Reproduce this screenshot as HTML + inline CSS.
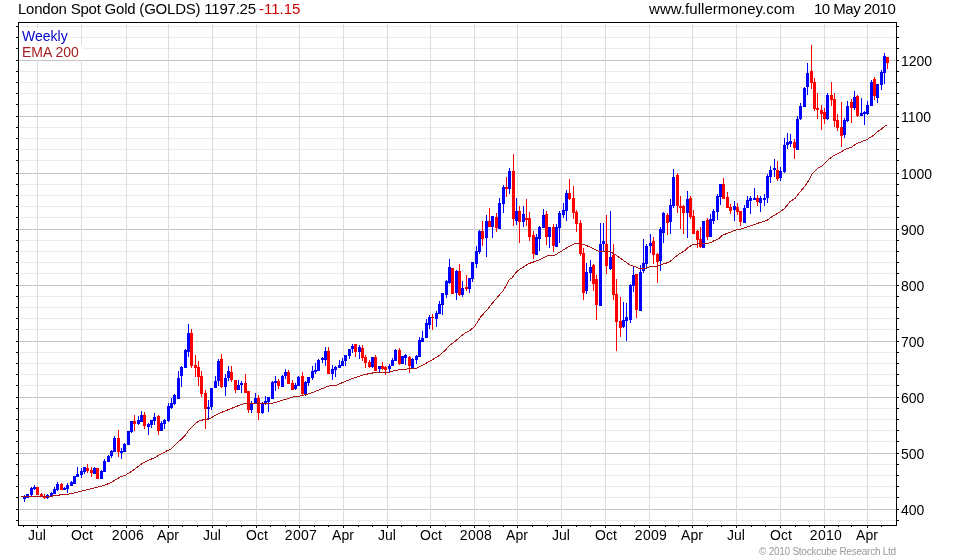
<!DOCTYPE html><html><head><meta charset="utf-8"><style>
html,body{margin:0;padding:0;background:#fff;}
body{width:980px;height:560px;position:relative;overflow:hidden;font-family:"Liberation Sans",sans-serif;}
svg{position:absolute;left:0;top:0;}
.t,.yl,.xl{will-change:transform;}
.t{position:absolute;font-size:14px;line-height:14px;white-space:nowrap;color:#000;}
.yl{position:absolute;font-size:14px;line-height:14px;white-space:nowrap;left:901px;}
.xl{position:absolute;font-size:14px;line-height:14px;white-space:nowrap;top:528px;width:60px;text-align:center;}
.h{font-size:15px;line-height:15px;top:0.6px;}
</style></head><body>
<svg width="980" height="560" viewBox="0 0 980 560" shape-rendering="crispEdges">
<rect x="20" y="26" width="875" height="1" fill="#ebebeb"/>
<rect x="20" y="37" width="875" height="1" fill="#ebebeb"/>
<rect x="20" y="48" width="875" height="1" fill="#ebebeb"/>
<rect x="20" y="71" width="875" height="1" fill="#ebebeb"/>
<rect x="20" y="82" width="875" height="1" fill="#ebebeb"/>
<rect x="20" y="93" width="875" height="1" fill="#ebebeb"/>
<rect x="20" y="104" width="875" height="1" fill="#ebebeb"/>
<rect x="20" y="127" width="875" height="1" fill="#ebebeb"/>
<rect x="20" y="138" width="875" height="1" fill="#ebebeb"/>
<rect x="20" y="149" width="875" height="1" fill="#ebebeb"/>
<rect x="20" y="160" width="875" height="1" fill="#ebebeb"/>
<rect x="20" y="184" width="875" height="1" fill="#ebebeb"/>
<rect x="20" y="195" width="875" height="1" fill="#ebebeb"/>
<rect x="20" y="206" width="875" height="1" fill="#ebebeb"/>
<rect x="20" y="217" width="875" height="1" fill="#ebebeb"/>
<rect x="20" y="240" width="875" height="1" fill="#ebebeb"/>
<rect x="20" y="251" width="875" height="1" fill="#ebebeb"/>
<rect x="20" y="262" width="875" height="1" fill="#ebebeb"/>
<rect x="20" y="273" width="875" height="1" fill="#ebebeb"/>
<rect x="20" y="296" width="875" height="1" fill="#ebebeb"/>
<rect x="20" y="307" width="875" height="1" fill="#ebebeb"/>
<rect x="20" y="318" width="875" height="1" fill="#ebebeb"/>
<rect x="20" y="329" width="875" height="1" fill="#ebebeb"/>
<rect x="20" y="352" width="875" height="1" fill="#ebebeb"/>
<rect x="20" y="363" width="875" height="1" fill="#ebebeb"/>
<rect x="20" y="374" width="875" height="1" fill="#ebebeb"/>
<rect x="20" y="385" width="875" height="1" fill="#ebebeb"/>
<rect x="20" y="408" width="875" height="1" fill="#ebebeb"/>
<rect x="20" y="419" width="875" height="1" fill="#ebebeb"/>
<rect x="20" y="430" width="875" height="1" fill="#ebebeb"/>
<rect x="20" y="441" width="875" height="1" fill="#ebebeb"/>
<rect x="20" y="464" width="875" height="1" fill="#ebebeb"/>
<rect x="20" y="475" width="875" height="1" fill="#ebebeb"/>
<rect x="20" y="486" width="875" height="1" fill="#ebebeb"/>
<rect x="20" y="497" width="875" height="1" fill="#ebebeb"/>
<rect x="20" y="520" width="875" height="1" fill="#ebebeb"/>
<rect x="19" y="60" width="877" height="1" fill="#c4c4c4"/>
<rect x="19" y="116" width="877" height="1" fill="#c4c4c4"/>
<rect x="19" y="173" width="877" height="1" fill="#c4c4c4"/>
<rect x="19" y="229" width="877" height="1" fill="#c4c4c4"/>
<rect x="19" y="285" width="877" height="1" fill="#c4c4c4"/>
<rect x="19" y="341" width="877" height="1" fill="#c4c4c4"/>
<rect x="19" y="397" width="877" height="1" fill="#c4c4c4"/>
<rect x="19" y="453" width="877" height="1" fill="#c4c4c4"/>
<rect x="19" y="509" width="877" height="1" fill="#c4c4c4"/>
<rect x="37" y="24" width="1" height="500" fill="#dcdcdc"/>
<rect x="81" y="24" width="1" height="500" fill="#dcdcdc"/>
<rect x="126" y="24" width="1" height="500" fill="#dcdcdc"/>
<rect x="168" y="24" width="1" height="500" fill="#dcdcdc"/>
<rect x="212" y="24" width="1" height="500" fill="#dcdcdc"/>
<rect x="256" y="24" width="1" height="500" fill="#dcdcdc"/>
<rect x="299" y="24" width="1" height="500" fill="#dcdcdc"/>
<rect x="343" y="24" width="1" height="500" fill="#dcdcdc"/>
<rect x="387" y="24" width="1" height="500" fill="#dcdcdc"/>
<rect x="430" y="24" width="1" height="500" fill="#dcdcdc"/>
<rect x="474" y="24" width="1" height="500" fill="#dcdcdc"/>
<rect x="517" y="24" width="1" height="500" fill="#dcdcdc"/>
<rect x="561" y="24" width="1" height="500" fill="#dcdcdc"/>
<rect x="605" y="24" width="1" height="500" fill="#dcdcdc"/>
<rect x="649" y="24" width="1" height="500" fill="#dcdcdc"/>
<rect x="692" y="24" width="1" height="500" fill="#dcdcdc"/>
<rect x="736" y="24" width="1" height="500" fill="#dcdcdc"/>
<rect x="780" y="24" width="1" height="500" fill="#dcdcdc"/>
<rect x="824" y="24" width="1" height="500" fill="#dcdcdc"/>
<rect x="867" y="24" width="1" height="500" fill="#dcdcdc"/>
<rect x="24" y="495" width="1" height="7" fill="#0000ff"/><rect x="23" y="497" width="3" height="2" fill="#0000ff"/>
<rect x="27" y="494" width="1" height="4" fill="#0000ff"/><rect x="26" y="494" width="3" height="4" fill="#0000ff"/>
<rect x="31" y="487" width="1" height="9" fill="#0000ff"/><rect x="30" y="488" width="3" height="7" fill="#0000ff"/>
<rect x="34" y="485" width="1" height="5" fill="#0000ff"/><rect x="33" y="487" width="3" height="2" fill="#0000ff"/>
<rect x="37" y="487" width="1" height="8" fill="#ff0000"/><rect x="36" y="487" width="3" height="8" fill="#ff0000"/>
<rect x="41" y="493" width="1" height="4" fill="#ff0000"/><rect x="40" y="494" width="3" height="2" fill="#ff0000"/>
<rect x="44" y="494" width="1" height="5" fill="#ff0000"/><rect x="43" y="496" width="3" height="2" fill="#ff0000"/>
<rect x="47" y="494" width="1" height="5" fill="#0000ff"/><rect x="46" y="495" width="3" height="3" fill="#0000ff"/>
<rect x="51" y="492" width="1" height="4" fill="#0000ff"/><rect x="50" y="493" width="3" height="3" fill="#0000ff"/>
<rect x="54" y="487" width="1" height="7" fill="#0000ff"/><rect x="53" y="489" width="3" height="5" fill="#0000ff"/>
<rect x="57" y="482" width="1" height="9" fill="#0000ff"/><rect x="56" y="484" width="3" height="6" fill="#0000ff"/>
<rect x="61" y="483" width="1" height="7" fill="#ff0000"/><rect x="60" y="484" width="3" height="6" fill="#ff0000"/>
<rect x="64" y="487" width="1" height="3" fill="#0000ff"/><rect x="63" y="488" width="3" height="2" fill="#0000ff"/>
<rect x="67" y="483" width="1" height="10" fill="#0000ff"/><rect x="66" y="485" width="3" height="4" fill="#0000ff"/>
<rect x="71" y="481" width="1" height="5" fill="#0000ff"/><rect x="70" y="482" width="3" height="4" fill="#0000ff"/>
<rect x="74" y="476" width="1" height="8" fill="#0000ff"/><rect x="73" y="476" width="3" height="8" fill="#0000ff"/>
<rect x="77" y="467" width="1" height="10" fill="#0000ff"/><rect x="76" y="474" width="3" height="3" fill="#0000ff"/>
<rect x="81" y="468" width="1" height="10" fill="#0000ff"/><rect x="80" y="471" width="3" height="4" fill="#0000ff"/>
<rect x="84" y="467" width="1" height="7" fill="#0000ff"/><rect x="83" y="467" width="3" height="5" fill="#0000ff"/>
<rect x="87" y="464" width="1" height="9" fill="#ff0000"/><rect x="86" y="468" width="3" height="3" fill="#ff0000"/>
<rect x="91" y="467" width="1" height="10" fill="#ff0000"/><rect x="90" y="470" width="3" height="3" fill="#ff0000"/>
<rect x="94" y="467" width="1" height="7" fill="#0000ff"/><rect x="93" y="468" width="3" height="6" fill="#0000ff"/>
<rect x="97" y="468" width="1" height="11" fill="#ff0000"/><rect x="96" y="468" width="3" height="11" fill="#ff0000"/>
<rect x="101" y="470" width="1" height="9" fill="#0000ff"/><rect x="100" y="471" width="3" height="8" fill="#0000ff"/>
<rect x="104" y="459" width="1" height="13" fill="#0000ff"/><rect x="103" y="461" width="3" height="11" fill="#0000ff"/>
<rect x="108" y="455" width="1" height="7" fill="#0000ff"/><rect x="107" y="456" width="3" height="6" fill="#0000ff"/>
<rect x="111" y="450" width="1" height="8" fill="#0000ff"/><rect x="110" y="451" width="3" height="5" fill="#0000ff"/>
<rect x="114" y="436" width="1" height="16" fill="#0000ff"/><rect x="113" y="438" width="3" height="14" fill="#0000ff"/>
<rect x="118" y="430" width="1" height="27" fill="#ff0000"/><rect x="117" y="438" width="3" height="14" fill="#ff0000"/>
<rect x="121" y="448" width="1" height="11" fill="#0000ff"/><rect x="120" y="451" width="3" height="2" fill="#0000ff"/>
<rect x="124" y="443" width="1" height="9" fill="#0000ff"/><rect x="123" y="444" width="3" height="8" fill="#0000ff"/>
<rect x="128" y="431" width="1" height="14" fill="#0000ff"/><rect x="127" y="431" width="3" height="14" fill="#0000ff"/>
<rect x="131" y="421" width="1" height="12" fill="#0000ff"/><rect x="130" y="421" width="3" height="11" fill="#0000ff"/>
<rect x="134" y="415" width="1" height="16" fill="#ff0000"/><rect x="133" y="421" width="3" height="3" fill="#ff0000"/>
<rect x="138" y="416" width="1" height="9" fill="#0000ff"/><rect x="137" y="420" width="3" height="4" fill="#0000ff"/>
<rect x="141" y="411" width="1" height="11" fill="#0000ff"/><rect x="140" y="415" width="3" height="7" fill="#0000ff"/>
<rect x="144" y="412" width="1" height="17" fill="#ff0000"/><rect x="143" y="415" width="3" height="11" fill="#ff0000"/>
<rect x="148" y="423" width="1" height="12" fill="#0000ff"/><rect x="147" y="424" width="3" height="3" fill="#0000ff"/>
<rect x="151" y="420" width="1" height="8" fill="#0000ff"/><rect x="150" y="420" width="3" height="5" fill="#0000ff"/>
<rect x="154" y="413" width="1" height="12" fill="#0000ff"/><rect x="153" y="417" width="3" height="4" fill="#0000ff"/>
<rect x="158" y="415" width="1" height="20" fill="#ff0000"/><rect x="157" y="416" width="3" height="15" fill="#ff0000"/>
<rect x="161" y="421" width="1" height="10" fill="#0000ff"/><rect x="160" y="423" width="3" height="8" fill="#0000ff"/>
<rect x="164" y="419" width="1" height="10" fill="#0000ff"/><rect x="163" y="420" width="3" height="4" fill="#0000ff"/>
<rect x="168" y="403" width="1" height="19" fill="#0000ff"/><rect x="167" y="406" width="3" height="15" fill="#0000ff"/>
<rect x="171" y="398" width="1" height="11" fill="#0000ff"/><rect x="170" y="403" width="3" height="5" fill="#0000ff"/>
<rect x="174" y="394" width="1" height="11" fill="#0000ff"/><rect x="173" y="395" width="3" height="9" fill="#0000ff"/>
<rect x="178" y="371" width="1" height="28" fill="#0000ff"/><rect x="177" y="378" width="3" height="21" fill="#0000ff"/>
<rect x="181" y="366" width="1" height="21" fill="#0000ff"/><rect x="180" y="367" width="3" height="9" fill="#0000ff"/>
<rect x="185" y="349" width="1" height="19" fill="#0000ff"/><rect x="184" y="350" width="3" height="18" fill="#0000ff"/>
<rect x="188" y="324" width="1" height="33" fill="#0000ff"/><rect x="187" y="333" width="3" height="19" fill="#0000ff"/>
<rect x="191" y="329" width="1" height="39" fill="#ff0000"/><rect x="190" y="333" width="3" height="33" fill="#ff0000"/>
<rect x="195" y="355" width="1" height="22" fill="#ff0000"/><rect x="194" y="365" width="3" height="3" fill="#ff0000"/>
<rect x="198" y="361" width="1" height="25" fill="#ff0000"/><rect x="197" y="367" width="3" height="10" fill="#ff0000"/>
<rect x="201" y="371" width="1" height="26" fill="#ff0000"/><rect x="200" y="376" width="3" height="18" fill="#ff0000"/>
<rect x="205" y="390" width="1" height="39" fill="#ff0000"/><rect x="204" y="393" width="3" height="16" fill="#ff0000"/>
<rect x="208" y="400" width="1" height="20" fill="#0000ff"/><rect x="207" y="407" width="3" height="2" fill="#0000ff"/>
<rect x="211" y="388" width="1" height="22" fill="#0000ff"/><rect x="210" y="388" width="3" height="19" fill="#0000ff"/>
<rect x="215" y="376" width="1" height="12" fill="#0000ff"/><rect x="214" y="381" width="3" height="7" fill="#0000ff"/>
<rect x="218" y="359" width="1" height="27" fill="#0000ff"/><rect x="217" y="361" width="3" height="20" fill="#0000ff"/>
<rect x="221" y="354" width="1" height="34" fill="#ff0000"/><rect x="220" y="359" width="3" height="28" fill="#ff0000"/>
<rect x="225" y="374" width="1" height="22" fill="#0000ff"/><rect x="224" y="378" width="3" height="9" fill="#0000ff"/>
<rect x="228" y="366" width="1" height="15" fill="#0000ff"/><rect x="227" y="371" width="3" height="7" fill="#0000ff"/>
<rect x="231" y="366" width="1" height="16" fill="#ff0000"/><rect x="230" y="372" width="3" height="8" fill="#ff0000"/>
<rect x="235" y="380" width="1" height="13" fill="#ff0000"/><rect x="234" y="380" width="3" height="10" fill="#ff0000"/>
<rect x="238" y="380" width="1" height="10" fill="#0000ff"/><rect x="237" y="385" width="3" height="5" fill="#0000ff"/>
<rect x="241" y="381" width="1" height="12" fill="#0000ff"/><rect x="240" y="383" width="3" height="2" fill="#0000ff"/>
<rect x="245" y="374" width="1" height="19" fill="#ff0000"/><rect x="244" y="383" width="3" height="10" fill="#ff0000"/>
<rect x="248" y="391" width="1" height="22" fill="#ff0000"/><rect x="247" y="391" width="3" height="19" fill="#ff0000"/>
<rect x="251" y="401" width="1" height="12" fill="#0000ff"/><rect x="250" y="404" width="3" height="6" fill="#0000ff"/>
<rect x="255" y="393" width="1" height="11" fill="#0000ff"/><rect x="254" y="398" width="3" height="6" fill="#0000ff"/>
<rect x="258" y="395" width="1" height="25" fill="#ff0000"/><rect x="257" y="398" width="3" height="15" fill="#ff0000"/>
<rect x="262" y="402" width="1" height="12" fill="#0000ff"/><rect x="261" y="403" width="3" height="10" fill="#0000ff"/>
<rect x="265" y="396" width="1" height="9" fill="#0000ff"/><rect x="264" y="401" width="3" height="3" fill="#0000ff"/>
<rect x="268" y="397" width="1" height="15" fill="#0000ff"/><rect x="267" y="397" width="3" height="5" fill="#0000ff"/>
<rect x="272" y="381" width="1" height="18" fill="#0000ff"/><rect x="271" y="382" width="3" height="17" fill="#0000ff"/>
<rect x="275" y="376" width="1" height="15" fill="#0000ff"/><rect x="274" y="381" width="3" height="2" fill="#0000ff"/>
<rect x="278" y="379" width="1" height="10" fill="#ff0000"/><rect x="277" y="381" width="3" height="5" fill="#ff0000"/>
<rect x="282" y="375" width="1" height="12" fill="#0000ff"/><rect x="281" y="376" width="3" height="11" fill="#0000ff"/>
<rect x="285" y="369" width="1" height="10" fill="#0000ff"/><rect x="284" y="372" width="3" height="4" fill="#0000ff"/>
<rect x="288" y="370" width="1" height="14" fill="#ff0000"/><rect x="287" y="372" width="3" height="12" fill="#ff0000"/>
<rect x="292" y="380" width="1" height="10" fill="#ff0000"/><rect x="291" y="383" width="3" height="7" fill="#ff0000"/>
<rect x="295" y="383" width="1" height="7" fill="#0000ff"/><rect x="294" y="385" width="3" height="4" fill="#0000ff"/>
<rect x="298" y="376" width="1" height="10" fill="#0000ff"/><rect x="297" y="377" width="3" height="9" fill="#0000ff"/>
<rect x="302" y="372" width="1" height="23" fill="#ff0000"/><rect x="301" y="376" width="3" height="18" fill="#ff0000"/>
<rect x="305" y="381" width="1" height="15" fill="#0000ff"/><rect x="304" y="382" width="3" height="12" fill="#0000ff"/>
<rect x="308" y="377" width="1" height="9" fill="#0000ff"/><rect x="307" y="377" width="3" height="6" fill="#0000ff"/>
<rect x="312" y="366" width="1" height="14" fill="#0000ff"/><rect x="311" y="371" width="3" height="7" fill="#0000ff"/>
<rect x="315" y="363" width="1" height="11" fill="#0000ff"/><rect x="314" y="370" width="3" height="2" fill="#0000ff"/>
<rect x="318" y="359" width="1" height="12" fill="#0000ff"/><rect x="317" y="360" width="3" height="11" fill="#0000ff"/>
<rect x="322" y="357" width="1" height="6" fill="#0000ff"/><rect x="321" y="358" width="3" height="2" fill="#0000ff"/>
<rect x="325" y="347" width="1" height="19" fill="#0000ff"/><rect x="324" y="351" width="3" height="9" fill="#0000ff"/>
<rect x="328" y="347" width="1" height="27" fill="#ff0000"/><rect x="327" y="351" width="3" height="23" fill="#ff0000"/>
<rect x="332" y="365" width="1" height="15" fill="#0000ff"/><rect x="331" y="369" width="3" height="5" fill="#0000ff"/>
<rect x="335" y="366" width="1" height="11" fill="#0000ff"/><rect x="334" y="367" width="3" height="3" fill="#0000ff"/>
<rect x="339" y="360" width="1" height="8" fill="#0000ff"/><rect x="338" y="365" width="3" height="3" fill="#0000ff"/>
<rect x="342" y="358" width="1" height="8" fill="#0000ff"/><rect x="341" y="361" width="3" height="5" fill="#0000ff"/>
<rect x="345" y="355" width="1" height="11" fill="#0000ff"/><rect x="344" y="355" width="3" height="6" fill="#0000ff"/>
<rect x="349" y="349" width="1" height="10" fill="#0000ff"/><rect x="348" y="349" width="3" height="7" fill="#0000ff"/>
<rect x="352" y="344" width="1" height="9" fill="#0000ff"/><rect x="351" y="346" width="3" height="3" fill="#0000ff"/>
<rect x="355" y="344" width="1" height="13" fill="#ff0000"/><rect x="354" y="344" width="3" height="8" fill="#ff0000"/>
<rect x="359" y="345" width="1" height="14" fill="#0000ff"/><rect x="358" y="347" width="3" height="5" fill="#0000ff"/>
<rect x="362" y="345" width="1" height="16" fill="#ff0000"/><rect x="361" y="348" width="3" height="10" fill="#ff0000"/>
<rect x="365" y="355" width="1" height="13" fill="#ff0000"/><rect x="364" y="357" width="3" height="6" fill="#ff0000"/>
<rect x="369" y="360" width="1" height="8" fill="#ff0000"/><rect x="368" y="362" width="3" height="5" fill="#ff0000"/>
<rect x="372" y="357" width="1" height="11" fill="#0000ff"/><rect x="371" y="357" width="3" height="10" fill="#0000ff"/>
<rect x="375" y="355" width="1" height="16" fill="#ff0000"/><rect x="374" y="357" width="3" height="14" fill="#ff0000"/>
<rect x="379" y="366" width="1" height="6" fill="#0000ff"/><rect x="378" y="366" width="3" height="3" fill="#0000ff"/>
<rect x="382" y="362" width="1" height="8" fill="#ff0000"/><rect x="381" y="366" width="3" height="3" fill="#ff0000"/>
<rect x="385" y="366" width="1" height="9" fill="#ff0000"/><rect x="384" y="367" width="3" height="3" fill="#ff0000"/>
<rect x="389" y="364" width="1" height="8" fill="#0000ff"/><rect x="388" y="366" width="3" height="3" fill="#0000ff"/>
<rect x="392" y="358" width="1" height="8" fill="#0000ff"/><rect x="391" y="360" width="3" height="6" fill="#0000ff"/>
<rect x="395" y="349" width="1" height="12" fill="#0000ff"/><rect x="394" y="350" width="3" height="11" fill="#0000ff"/>
<rect x="399" y="348" width="1" height="17" fill="#ff0000"/><rect x="398" y="350" width="3" height="14" fill="#ff0000"/>
<rect x="402" y="356" width="1" height="8" fill="#0000ff"/><rect x="401" y="356" width="3" height="8" fill="#0000ff"/>
<rect x="405" y="354" width="1" height="11" fill="#0000ff"/><rect x="404" y="355" width="3" height="3" fill="#0000ff"/>
<rect x="409" y="356" width="1" height="17" fill="#ff0000"/><rect x="408" y="357" width="3" height="9" fill="#ff0000"/>
<rect x="412" y="358" width="1" height="10" fill="#0000ff"/><rect x="411" y="359" width="3" height="9" fill="#0000ff"/>
<rect x="416" y="355" width="1" height="9" fill="#0000ff"/><rect x="415" y="356" width="3" height="4" fill="#0000ff"/>
<rect x="419" y="337" width="1" height="20" fill="#0000ff"/><rect x="418" y="340" width="3" height="17" fill="#0000ff"/>
<rect x="422" y="331" width="1" height="11" fill="#0000ff"/><rect x="421" y="338" width="3" height="4" fill="#0000ff"/>
<rect x="426" y="319" width="1" height="19" fill="#0000ff"/><rect x="425" y="323" width="3" height="15" fill="#0000ff"/>
<rect x="429" y="315" width="1" height="14" fill="#0000ff"/><rect x="428" y="317" width="3" height="8" fill="#0000ff"/>
<rect x="432" y="314" width="1" height="16" fill="#ff0000"/><rect x="431" y="317" width="3" height="1" fill="#ff0000"/>
<rect x="436" y="311" width="1" height="16" fill="#0000ff"/><rect x="435" y="313" width="3" height="6" fill="#0000ff"/>
<rect x="439" y="301" width="1" height="13" fill="#0000ff"/><rect x="438" y="304" width="3" height="10" fill="#0000ff"/>
<rect x="442" y="293" width="1" height="22" fill="#0000ff"/><rect x="441" y="293" width="3" height="12" fill="#0000ff"/>
<rect x="446" y="280" width="1" height="18" fill="#0000ff"/><rect x="445" y="281" width="3" height="14" fill="#0000ff"/>
<rect x="449" y="259" width="1" height="25" fill="#0000ff"/><rect x="448" y="267" width="3" height="16" fill="#0000ff"/>
<rect x="452" y="268" width="1" height="26" fill="#ff0000"/><rect x="451" y="268" width="3" height="26" fill="#ff0000"/>
<rect x="456" y="270" width="1" height="30" fill="#0000ff"/><rect x="455" y="271" width="3" height="22" fill="#0000ff"/>
<rect x="459" y="264" width="1" height="32" fill="#ff0000"/><rect x="458" y="271" width="3" height="24" fill="#ff0000"/>
<rect x="462" y="281" width="1" height="16" fill="#0000ff"/><rect x="461" y="288" width="3" height="7" fill="#0000ff"/>
<rect x="466" y="275" width="1" height="16" fill="#ff0000"/><rect x="465" y="287" width="3" height="2" fill="#ff0000"/>
<rect x="469" y="278" width="1" height="15" fill="#0000ff"/><rect x="468" y="278" width="3" height="11" fill="#0000ff"/>
<rect x="472" y="262" width="1" height="20" fill="#0000ff"/><rect x="471" y="262" width="3" height="17" fill="#0000ff"/>
<rect x="476" y="246" width="1" height="22" fill="#0000ff"/><rect x="475" y="251" width="3" height="13" fill="#0000ff"/>
<rect x="479" y="230" width="1" height="24" fill="#0000ff"/><rect x="478" y="231" width="3" height="21" fill="#0000ff"/>
<rect x="482" y="221" width="1" height="25" fill="#ff0000"/><rect x="481" y="231" width="3" height="8" fill="#ff0000"/>
<rect x="486" y="215" width="1" height="42" fill="#0000ff"/><rect x="485" y="221" width="3" height="17" fill="#0000ff"/>
<rect x="489" y="208" width="1" height="19" fill="#ff0000"/><rect x="488" y="221" width="3" height="6" fill="#ff0000"/>
<rect x="492" y="216" width="1" height="22" fill="#0000ff"/><rect x="491" y="216" width="3" height="11" fill="#0000ff"/>
<rect x="496" y="213" width="1" height="19" fill="#ff0000"/><rect x="495" y="217" width="3" height="11" fill="#ff0000"/>
<rect x="499" y="198" width="1" height="31" fill="#0000ff"/><rect x="498" y="203" width="3" height="26" fill="#0000ff"/>
<rect x="503" y="185" width="1" height="28" fill="#0000ff"/><rect x="502" y="187" width="3" height="17" fill="#0000ff"/>
<rect x="506" y="177" width="1" height="20" fill="#ff0000"/><rect x="505" y="187" width="3" height="2" fill="#ff0000"/>
<rect x="509" y="168" width="1" height="26" fill="#0000ff"/><rect x="508" y="171" width="3" height="18" fill="#0000ff"/>
<rect x="513" y="154" width="1" height="72" fill="#ff0000"/><rect x="512" y="171" width="3" height="48" fill="#ff0000"/>
<rect x="516" y="198" width="1" height="27" fill="#0000ff"/><rect x="515" y="211" width="3" height="10" fill="#0000ff"/>
<rect x="519" y="206" width="1" height="37" fill="#ff0000"/><rect x="518" y="211" width="3" height="11" fill="#ff0000"/>
<rect x="523" y="206" width="1" height="21" fill="#0000ff"/><rect x="522" y="214" width="3" height="8" fill="#0000ff"/>
<rect x="526" y="199" width="1" height="27" fill="#ff0000"/><rect x="525" y="218" width="3" height="2" fill="#ff0000"/>
<rect x="529" y="212" width="1" height="29" fill="#ff0000"/><rect x="528" y="218" width="3" height="19" fill="#ff0000"/>
<rect x="533" y="231" width="1" height="28" fill="#ff0000"/><rect x="532" y="235" width="3" height="19" fill="#ff0000"/>
<rect x="536" y="234" width="1" height="21" fill="#0000ff"/><rect x="535" y="237" width="3" height="18" fill="#0000ff"/>
<rect x="539" y="226" width="1" height="25" fill="#0000ff"/><rect x="538" y="227" width="3" height="12" fill="#0000ff"/>
<rect x="543" y="209" width="1" height="19" fill="#0000ff"/><rect x="542" y="215" width="3" height="13" fill="#0000ff"/>
<rect x="546" y="211" width="1" height="34" fill="#ff0000"/><rect x="545" y="214" width="3" height="23" fill="#ff0000"/>
<rect x="549" y="227" width="1" height="21" fill="#0000ff"/><rect x="548" y="227" width="3" height="10" fill="#0000ff"/>
<rect x="553" y="224" width="1" height="28" fill="#ff0000"/><rect x="552" y="227" width="3" height="19" fill="#ff0000"/>
<rect x="556" y="224" width="1" height="23" fill="#0000ff"/><rect x="555" y="227" width="3" height="20" fill="#0000ff"/>
<rect x="559" y="211" width="1" height="32" fill="#0000ff"/><rect x="558" y="213" width="3" height="15" fill="#0000ff"/>
<rect x="563" y="203" width="1" height="15" fill="#0000ff"/><rect x="562" y="210" width="3" height="5" fill="#0000ff"/>
<rect x="566" y="190" width="1" height="31" fill="#0000ff"/><rect x="565" y="193" width="3" height="18" fill="#0000ff"/>
<rect x="569" y="179" width="1" height="21" fill="#ff0000"/><rect x="568" y="193" width="3" height="6" fill="#ff0000"/>
<rect x="573" y="186" width="1" height="33" fill="#ff0000"/><rect x="572" y="198" width="3" height="15" fill="#ff0000"/>
<rect x="576" y="210" width="1" height="22" fill="#ff0000"/><rect x="575" y="212" width="3" height="12" fill="#ff0000"/>
<rect x="580" y="220" width="1" height="36" fill="#ff0000"/><rect x="579" y="223" width="3" height="31" fill="#ff0000"/>
<rect x="583" y="248" width="1" height="52" fill="#ff0000"/><rect x="582" y="253" width="3" height="40" fill="#ff0000"/>
<rect x="586" y="263" width="1" height="31" fill="#0000ff"/><rect x="585" y="272" width="3" height="19" fill="#0000ff"/>
<rect x="590" y="260" width="1" height="21" fill="#0000ff"/><rect x="589" y="267" width="3" height="6" fill="#0000ff"/>
<rect x="593" y="264" width="1" height="27" fill="#ff0000"/><rect x="592" y="265" width="3" height="19" fill="#ff0000"/>
<rect x="596" y="275" width="1" height="45" fill="#ff0000"/><rect x="595" y="279" width="3" height="26" fill="#ff0000"/>
<rect x="600" y="223" width="1" height="83" fill="#0000ff"/><rect x="599" y="244" width="3" height="62" fill="#0000ff"/>
<rect x="603" y="223" width="1" height="28" fill="#0000ff"/><rect x="602" y="241" width="3" height="3" fill="#0000ff"/>
<rect x="606" y="215" width="1" height="59" fill="#ff0000"/><rect x="605" y="244" width="3" height="22" fill="#ff0000"/>
<rect x="610" y="211" width="1" height="59" fill="#0000ff"/><rect x="609" y="257" width="3" height="12" fill="#0000ff"/>
<rect x="613" y="244" width="1" height="56" fill="#ff0000"/><rect x="612" y="255" width="3" height="40" fill="#ff0000"/>
<rect x="616" y="279" width="1" height="72" fill="#ff0000"/><rect x="615" y="294" width="3" height="28" fill="#ff0000"/>
<rect x="620" y="297" width="1" height="40" fill="#ff0000"/><rect x="619" y="321" width="3" height="7" fill="#ff0000"/>
<rect x="623" y="302" width="1" height="26" fill="#0000ff"/><rect x="622" y="320" width="3" height="7" fill="#0000ff"/>
<rect x="626" y="303" width="1" height="38" fill="#0000ff"/><rect x="625" y="317" width="3" height="4" fill="#0000ff"/>
<rect x="630" y="284" width="1" height="39" fill="#0000ff"/><rect x="629" y="285" width="3" height="35" fill="#0000ff"/>
<rect x="633" y="267" width="1" height="25" fill="#0000ff"/><rect x="632" y="275" width="3" height="11" fill="#0000ff"/>
<rect x="636" y="274" width="1" height="44" fill="#ff0000"/><rect x="635" y="274" width="3" height="36" fill="#ff0000"/>
<rect x="640" y="265" width="1" height="46" fill="#0000ff"/><rect x="639" y="272" width="3" height="39" fill="#0000ff"/>
<rect x="643" y="239" width="1" height="34" fill="#0000ff"/><rect x="642" y="263" width="3" height="8" fill="#0000ff"/>
<rect x="646" y="244" width="1" height="25" fill="#0000ff"/><rect x="645" y="246" width="3" height="18" fill="#0000ff"/>
<rect x="650" y="234" width="1" height="19" fill="#0000ff"/><rect x="649" y="243" width="3" height="3" fill="#0000ff"/>
<rect x="653" y="237" width="1" height="27" fill="#ff0000"/><rect x="652" y="241" width="3" height="14" fill="#ff0000"/>
<rect x="657" y="253" width="1" height="30" fill="#ff0000"/><rect x="656" y="254" width="3" height="8" fill="#ff0000"/>
<rect x="660" y="227" width="1" height="44" fill="#0000ff"/><rect x="659" y="229" width="3" height="32" fill="#0000ff"/>
<rect x="663" y="212" width="1" height="31" fill="#0000ff"/><rect x="662" y="213" width="3" height="20" fill="#0000ff"/>
<rect x="667" y="213" width="1" height="22" fill="#ff0000"/><rect x="666" y="215" width="3" height="8" fill="#ff0000"/>
<rect x="670" y="199" width="1" height="35" fill="#0000ff"/><rect x="669" y="205" width="3" height="17" fill="#0000ff"/>
<rect x="673" y="169" width="1" height="39" fill="#0000ff"/><rect x="672" y="177" width="3" height="29" fill="#0000ff"/>
<rect x="677" y="173" width="1" height="40" fill="#ff0000"/><rect x="676" y="175" width="3" height="31" fill="#ff0000"/>
<rect x="680" y="196" width="1" height="33" fill="#ff0000"/><rect x="679" y="206" width="3" height="2" fill="#ff0000"/>
<rect x="683" y="205" width="1" height="29" fill="#ff0000"/><rect x="682" y="206" width="3" height="7" fill="#ff0000"/>
<rect x="687" y="191" width="1" height="47" fill="#0000ff"/><rect x="686" y="199" width="3" height="14" fill="#0000ff"/>
<rect x="690" y="196" width="1" height="23" fill="#ff0000"/><rect x="689" y="198" width="3" height="19" fill="#ff0000"/>
<rect x="693" y="210" width="1" height="24" fill="#ff0000"/><rect x="692" y="216" width="3" height="18" fill="#ff0000"/>
<rect x="697" y="230" width="1" height="18" fill="#ff0000"/><rect x="696" y="231" width="3" height="9" fill="#ff0000"/>
<rect x="700" y="227" width="1" height="21" fill="#ff0000"/><rect x="699" y="239" width="3" height="8" fill="#ff0000"/>
<rect x="703" y="221" width="1" height="27" fill="#0000ff"/><rect x="702" y="221" width="3" height="27" fill="#0000ff"/>
<rect x="707" y="218" width="1" height="22" fill="#ff0000"/><rect x="706" y="220" width="3" height="17" fill="#ff0000"/>
<rect x="710" y="214" width="1" height="23" fill="#0000ff"/><rect x="709" y="219" width="3" height="18" fill="#0000ff"/>
<rect x="713" y="209" width="1" height="15" fill="#0000ff"/><rect x="712" y="211" width="3" height="10" fill="#0000ff"/>
<rect x="717" y="194" width="1" height="26" fill="#0000ff"/><rect x="716" y="196" width="3" height="16" fill="#0000ff"/>
<rect x="720" y="184" width="1" height="21" fill="#0000ff"/><rect x="719" y="184" width="3" height="13" fill="#0000ff"/>
<rect x="723" y="178" width="1" height="21" fill="#ff0000"/><rect x="722" y="184" width="3" height="15" fill="#ff0000"/>
<rect x="727" y="192" width="1" height="16" fill="#ff0000"/><rect x="726" y="197" width="3" height="11" fill="#ff0000"/>
<rect x="730" y="204" width="1" height="10" fill="#ff0000"/><rect x="729" y="207" width="3" height="4" fill="#ff0000"/>
<rect x="734" y="201" width="1" height="20" fill="#0000ff"/><rect x="733" y="206" width="3" height="4" fill="#0000ff"/>
<rect x="737" y="203" width="1" height="12" fill="#ff0000"/><rect x="736" y="207" width="3" height="5" fill="#ff0000"/>
<rect x="740" y="211" width="1" height="15" fill="#ff0000"/><rect x="739" y="211" width="3" height="11" fill="#ff0000"/>
<rect x="744" y="205" width="1" height="18" fill="#0000ff"/><rect x="743" y="208" width="3" height="15" fill="#0000ff"/>
<rect x="747" y="196" width="1" height="12" fill="#0000ff"/><rect x="746" y="200" width="3" height="8" fill="#0000ff"/>
<rect x="750" y="196" width="1" height="18" fill="#0000ff"/><rect x="749" y="198" width="3" height="3" fill="#0000ff"/>
<rect x="754" y="188" width="1" height="12" fill="#0000ff"/><rect x="753" y="198" width="3" height="2" fill="#0000ff"/>
<rect x="757" y="195" width="1" height="11" fill="#ff0000"/><rect x="756" y="198" width="3" height="4" fill="#ff0000"/>
<rect x="760" y="196" width="1" height="16" fill="#0000ff"/><rect x="759" y="198" width="3" height="5" fill="#0000ff"/>
<rect x="764" y="194" width="1" height="12" fill="#0000ff"/><rect x="763" y="198" width="3" height="2" fill="#0000ff"/>
<rect x="767" y="174" width="1" height="29" fill="#0000ff"/><rect x="766" y="176" width="3" height="22" fill="#0000ff"/>
<rect x="770" y="166" width="1" height="17" fill="#0000ff"/><rect x="769" y="170" width="3" height="7" fill="#0000ff"/>
<rect x="774" y="159" width="1" height="18" fill="#0000ff"/><rect x="773" y="168" width="3" height="2" fill="#0000ff"/>
<rect x="777" y="161" width="1" height="20" fill="#ff0000"/><rect x="776" y="170" width="3" height="9" fill="#ff0000"/>
<rect x="780" y="167" width="1" height="14" fill="#0000ff"/><rect x="779" y="171" width="3" height="7" fill="#0000ff"/>
<rect x="784" y="138" width="1" height="35" fill="#0000ff"/><rect x="783" y="145" width="3" height="27" fill="#0000ff"/>
<rect x="787" y="133" width="1" height="16" fill="#0000ff"/><rect x="786" y="142" width="3" height="3" fill="#0000ff"/>
<rect x="790" y="134" width="1" height="13" fill="#0000ff"/><rect x="789" y="141" width="3" height="3" fill="#0000ff"/>
<rect x="794" y="139" width="1" height="20" fill="#ff0000"/><rect x="793" y="142" width="3" height="6" fill="#ff0000"/>
<rect x="797" y="116" width="1" height="34" fill="#0000ff"/><rect x="796" y="119" width="3" height="31" fill="#0000ff"/>
<rect x="800" y="103" width="1" height="17" fill="#0000ff"/><rect x="799" y="106" width="3" height="13" fill="#0000ff"/>
<rect x="804" y="87" width="1" height="20" fill="#0000ff"/><rect x="803" y="88" width="3" height="19" fill="#0000ff"/>
<rect x="807" y="63" width="1" height="32" fill="#0000ff"/><rect x="806" y="73" width="3" height="14" fill="#0000ff"/>
<rect x="811" y="45" width="1" height="44" fill="#ff0000"/><rect x="810" y="71" width="3" height="12" fill="#ff0000"/>
<rect x="814" y="78" width="1" height="33" fill="#ff0000"/><rect x="813" y="82" width="3" height="27" fill="#ff0000"/>
<rect x="817" y="93" width="1" height="26" fill="#ff0000"/><rect x="816" y="108" width="3" height="2" fill="#ff0000"/>
<rect x="821" y="105" width="1" height="25" fill="#ff0000"/><rect x="820" y="110" width="3" height="4" fill="#ff0000"/>
<rect x="824" y="108" width="1" height="16" fill="#ff0000"/><rect x="823" y="112" width="3" height="7" fill="#ff0000"/>
<rect x="827" y="93" width="1" height="27" fill="#0000ff"/><rect x="826" y="95" width="3" height="24" fill="#0000ff"/>
<rect x="831" y="82" width="1" height="24" fill="#ff0000"/><rect x="830" y="95" width="3" height="5" fill="#ff0000"/>
<rect x="834" y="93" width="1" height="34" fill="#ff0000"/><rect x="833" y="99" width="3" height="22" fill="#ff0000"/>
<rect x="837" y="114" width="1" height="17" fill="#ff0000"/><rect x="836" y="120" width="3" height="8" fill="#ff0000"/>
<rect x="841" y="102" width="1" height="45" fill="#ff0000"/><rect x="840" y="127" width="3" height="9" fill="#ff0000"/>
<rect x="844" y="118" width="1" height="20" fill="#0000ff"/><rect x="843" y="120" width="3" height="15" fill="#0000ff"/>
<rect x="847" y="101" width="1" height="21" fill="#0000ff"/><rect x="846" y="106" width="3" height="15" fill="#0000ff"/>
<rect x="851" y="99" width="1" height="24" fill="#ff0000"/><rect x="850" y="102" width="3" height="6" fill="#ff0000"/>
<rect x="854" y="91" width="1" height="19" fill="#0000ff"/><rect x="853" y="97" width="3" height="11" fill="#0000ff"/>
<rect x="857" y="95" width="1" height="22" fill="#ff0000"/><rect x="856" y="96" width="3" height="20" fill="#ff0000"/>
<rect x="861" y="98" width="1" height="18" fill="#0000ff"/><rect x="860" y="113" width="3" height="3" fill="#0000ff"/>
<rect x="864" y="111" width="1" height="14" fill="#0000ff"/><rect x="863" y="112" width="3" height="2" fill="#0000ff"/>
<rect x="867" y="101" width="1" height="14" fill="#0000ff"/><rect x="866" y="105" width="3" height="9" fill="#0000ff"/>
<rect x="871" y="80" width="1" height="26" fill="#0000ff"/><rect x="870" y="82" width="3" height="24" fill="#0000ff"/>
<rect x="874" y="77" width="1" height="23" fill="#ff0000"/><rect x="873" y="79" width="3" height="17" fill="#ff0000"/>
<rect x="877" y="84" width="1" height="19" fill="#0000ff"/><rect x="876" y="84" width="3" height="14" fill="#0000ff"/>
<rect x="881" y="70" width="1" height="20" fill="#0000ff"/><rect x="880" y="72" width="3" height="13" fill="#0000ff"/>
<rect x="884" y="53" width="1" height="31" fill="#0000ff"/><rect x="883" y="56" width="3" height="17" fill="#0000ff"/>
<rect x="887" y="57" width="1" height="12" fill="#ff0000"/><rect x="886" y="57" width="3" height="6" fill="#ff0000"/>
<polyline points="21.0,496.5 52.0,496.5 53.0,495.5 59.0,495.5 60.0,494.5 67.0,494.5 76.0,492.5 82.0,491.0 88.0,489.5 94.0,488.0 100.0,486.5 104.0,485.5 110.0,483.0 116.0,479.5 120.0,477.0 125.0,475.5 130.0,472.25 135.0,469.0 140.0,465.0 145.0,462.0 150.0,459.6 154.3,457.9 158.6,455.3 162.9,453.1 167.1,450.6 170.6,449.3 175.7,444.1 180.0,440.3 184.3,436.4 186.9,433.0 187.7,431.3 192.9,426.1 198.0,421.4 200.0,420.5 205.0,419.5 210.0,418.5 215.0,415.5 220.0,413.0 225.0,411.0 230.0,409.0 235.0,407.0 240.0,405.0 245.0,403.5 255.0,403.3 265.0,403.5 270.0,403.7 275.0,402.5 280.0,401.0 285.0,399.5 290.0,398.0 295.0,396.5 299.0,396.0 300.0,396.0 310.0,393.5 320.0,389.5 330.0,385.5 337.0,385.0 345.0,381.5 355.0,377.5 365.0,374.5 375.0,372.5 385.0,372.0 390.0,372.0 395.0,370.5 398.0,370.0 405.0,369.5 410.0,368.5 417.0,368.0 423.0,365.0 430.0,361.0 438.0,356.5 445.0,350.5 450.0,345.0 455.0,341.5 460.0,337.0 465.0,333.0 470.0,330.5 475.0,326.0 480.0,317.8 487.5,309.4 490.7,305.2 497.1,297.6 503.6,290.1 506.8,284.3 508.9,280.0 512.1,277.8 516.4,271.9 520.7,268.7 525.0,266.0 529.3,263.4 535.0,261.5 540.0,259.75 545.0,257.0 548.0,255.5 555.0,255.0 560.0,252.0 565.0,249.0 570.0,246.0 575.0,243.5 580.0,243.5 585.0,245.0 590.0,247.0 595.0,249.5 600.0,252.0 605.0,251.5 610.0,251.5 615.0,254.5 620.0,258.0 625.0,261.5 630.0,265.0 635.0,266.5 640.0,269.0 645.0,268.5 650.0,266.7 655.0,266.5 658.0,266.0 660.0,265.0 665.0,263.5 668.0,262.5 672.0,260.0 675.0,257.0 678.0,255.0 680.0,253.5 685.0,250.5 688.0,247.5 693.0,244.5 701.0,243.4 708.0,243.4 711.0,242.5 714.0,240.7 718.0,239.3 722.0,235.7 724.0,234.4 727.0,233.6 730.0,232.3 736.0,230.0 740.0,229.5 750.0,226.0 760.0,222.5 767.0,220.5 773.0,216.0 780.0,212.0 785.0,208.0 790.0,201.5 795.0,198.5 800.0,192.0 805.0,186.0 809.0,180.0 812.0,174.0 818.0,168.0 822.0,166.0 828.0,160.0 834.0,155.5 840.0,152.5 846.0,149.0 852.0,147.0 856.0,144.0 858.0,143.0 862.0,141.5 866.0,140.0 871.0,137.0 874.0,135.0 876.0,133.0 879.0,130.5 881.0,129.5 884.0,126.75 886.5,125.25" fill="none" stroke="#a81414" stroke-width="1" shape-rendering="crispEdges"/>
<rect x="18" y="22" width="879" height="1" fill="#000"/>
<rect x="18" y="525" width="879" height="1" fill="#000"/>
<rect x="18" y="22" width="1" height="504" fill="#000"/>
<rect x="896" y="22" width="1" height="504" fill="#000"/>
<rect x="16" y="26" width="2" height="1" fill="#000"/>
<rect x="897" y="26" width="2" height="1" fill="#000"/>
<rect x="16" y="37" width="2" height="1" fill="#000"/>
<rect x="897" y="37" width="2" height="1" fill="#000"/>
<rect x="16" y="48" width="2" height="1" fill="#000"/>
<rect x="897" y="48" width="2" height="1" fill="#000"/>
<rect x="16" y="60" width="2" height="1" fill="#000"/>
<rect x="897" y="60" width="2" height="1" fill="#000"/>
<rect x="16" y="71" width="2" height="1" fill="#000"/>
<rect x="897" y="71" width="2" height="1" fill="#000"/>
<rect x="16" y="82" width="2" height="1" fill="#000"/>
<rect x="897" y="82" width="2" height="1" fill="#000"/>
<rect x="16" y="93" width="2" height="1" fill="#000"/>
<rect x="897" y="93" width="2" height="1" fill="#000"/>
<rect x="16" y="104" width="2" height="1" fill="#000"/>
<rect x="897" y="104" width="2" height="1" fill="#000"/>
<rect x="16" y="116" width="2" height="1" fill="#000"/>
<rect x="897" y="116" width="2" height="1" fill="#000"/>
<rect x="16" y="127" width="2" height="1" fill="#000"/>
<rect x="897" y="127" width="2" height="1" fill="#000"/>
<rect x="16" y="138" width="2" height="1" fill="#000"/>
<rect x="897" y="138" width="2" height="1" fill="#000"/>
<rect x="16" y="149" width="2" height="1" fill="#000"/>
<rect x="897" y="149" width="2" height="1" fill="#000"/>
<rect x="16" y="160" width="2" height="1" fill="#000"/>
<rect x="897" y="160" width="2" height="1" fill="#000"/>
<rect x="16" y="173" width="2" height="1" fill="#000"/>
<rect x="897" y="173" width="2" height="1" fill="#000"/>
<rect x="16" y="184" width="2" height="1" fill="#000"/>
<rect x="897" y="184" width="2" height="1" fill="#000"/>
<rect x="16" y="195" width="2" height="1" fill="#000"/>
<rect x="897" y="195" width="2" height="1" fill="#000"/>
<rect x="16" y="206" width="2" height="1" fill="#000"/>
<rect x="897" y="206" width="2" height="1" fill="#000"/>
<rect x="16" y="217" width="2" height="1" fill="#000"/>
<rect x="897" y="217" width="2" height="1" fill="#000"/>
<rect x="16" y="229" width="2" height="1" fill="#000"/>
<rect x="897" y="229" width="2" height="1" fill="#000"/>
<rect x="16" y="240" width="2" height="1" fill="#000"/>
<rect x="897" y="240" width="2" height="1" fill="#000"/>
<rect x="16" y="251" width="2" height="1" fill="#000"/>
<rect x="897" y="251" width="2" height="1" fill="#000"/>
<rect x="16" y="262" width="2" height="1" fill="#000"/>
<rect x="897" y="262" width="2" height="1" fill="#000"/>
<rect x="16" y="273" width="2" height="1" fill="#000"/>
<rect x="897" y="273" width="2" height="1" fill="#000"/>
<rect x="16" y="285" width="2" height="1" fill="#000"/>
<rect x="897" y="285" width="2" height="1" fill="#000"/>
<rect x="16" y="296" width="2" height="1" fill="#000"/>
<rect x="897" y="296" width="2" height="1" fill="#000"/>
<rect x="16" y="307" width="2" height="1" fill="#000"/>
<rect x="897" y="307" width="2" height="1" fill="#000"/>
<rect x="16" y="318" width="2" height="1" fill="#000"/>
<rect x="897" y="318" width="2" height="1" fill="#000"/>
<rect x="16" y="329" width="2" height="1" fill="#000"/>
<rect x="897" y="329" width="2" height="1" fill="#000"/>
<rect x="16" y="341" width="2" height="1" fill="#000"/>
<rect x="897" y="341" width="2" height="1" fill="#000"/>
<rect x="16" y="352" width="2" height="1" fill="#000"/>
<rect x="897" y="352" width="2" height="1" fill="#000"/>
<rect x="16" y="363" width="2" height="1" fill="#000"/>
<rect x="897" y="363" width="2" height="1" fill="#000"/>
<rect x="16" y="374" width="2" height="1" fill="#000"/>
<rect x="897" y="374" width="2" height="1" fill="#000"/>
<rect x="16" y="385" width="2" height="1" fill="#000"/>
<rect x="897" y="385" width="2" height="1" fill="#000"/>
<rect x="16" y="397" width="2" height="1" fill="#000"/>
<rect x="897" y="397" width="2" height="1" fill="#000"/>
<rect x="16" y="408" width="2" height="1" fill="#000"/>
<rect x="897" y="408" width="2" height="1" fill="#000"/>
<rect x="16" y="419" width="2" height="1" fill="#000"/>
<rect x="897" y="419" width="2" height="1" fill="#000"/>
<rect x="16" y="430" width="2" height="1" fill="#000"/>
<rect x="897" y="430" width="2" height="1" fill="#000"/>
<rect x="16" y="441" width="2" height="1" fill="#000"/>
<rect x="897" y="441" width="2" height="1" fill="#000"/>
<rect x="16" y="453" width="2" height="1" fill="#000"/>
<rect x="897" y="453" width="2" height="1" fill="#000"/>
<rect x="16" y="464" width="2" height="1" fill="#000"/>
<rect x="897" y="464" width="2" height="1" fill="#000"/>
<rect x="16" y="475" width="2" height="1" fill="#000"/>
<rect x="897" y="475" width="2" height="1" fill="#000"/>
<rect x="16" y="486" width="2" height="1" fill="#000"/>
<rect x="897" y="486" width="2" height="1" fill="#000"/>
<rect x="16" y="497" width="2" height="1" fill="#000"/>
<rect x="897" y="497" width="2" height="1" fill="#000"/>
<rect x="16" y="509" width="2" height="1" fill="#000"/>
<rect x="897" y="509" width="2" height="1" fill="#000"/>
<rect x="16" y="520" width="2" height="1" fill="#000"/>
<rect x="897" y="520" width="2" height="1" fill="#000"/>
<rect x="23" y="526" width="1" height="1" fill="#000"/>
<rect x="37" y="526" width="1" height="2" fill="#000"/>
<rect x="51" y="526" width="1" height="1" fill="#000"/>
<rect x="67" y="526" width="1" height="1" fill="#000"/>
<rect x="81" y="526" width="1" height="2" fill="#000"/>
<rect x="95" y="526" width="1" height="1" fill="#000"/>
<rect x="110" y="526" width="1" height="1" fill="#000"/>
<rect x="126" y="526" width="1" height="2" fill="#000"/>
<rect x="140" y="526" width="1" height="1" fill="#000"/>
<rect x="153" y="526" width="1" height="1" fill="#000"/>
<rect x="168" y="526" width="1" height="2" fill="#000"/>
<rect x="182" y="526" width="1" height="1" fill="#000"/>
<rect x="197" y="526" width="1" height="1" fill="#000"/>
<rect x="212" y="526" width="1" height="2" fill="#000"/>
<rect x="226" y="526" width="1" height="1" fill="#000"/>
<rect x="241" y="526" width="1" height="1" fill="#000"/>
<rect x="256" y="526" width="1" height="2" fill="#000"/>
<rect x="270" y="526" width="1" height="1" fill="#000"/>
<rect x="285" y="526" width="1" height="1" fill="#000"/>
<rect x="299" y="526" width="1" height="2" fill="#000"/>
<rect x="314" y="526" width="1" height="1" fill="#000"/>
<rect x="328" y="526" width="1" height="1" fill="#000"/>
<rect x="343" y="526" width="1" height="2" fill="#000"/>
<rect x="358" y="526" width="1" height="1" fill="#000"/>
<rect x="372" y="526" width="1" height="1" fill="#000"/>
<rect x="387" y="526" width="1" height="2" fill="#000"/>
<rect x="401" y="526" width="1" height="1" fill="#000"/>
<rect x="416" y="526" width="1" height="1" fill="#000"/>
<rect x="430" y="526" width="1" height="2" fill="#000"/>
<rect x="445" y="526" width="1" height="1" fill="#000"/>
<rect x="460" y="526" width="1" height="1" fill="#000"/>
<rect x="474" y="526" width="1" height="2" fill="#000"/>
<rect x="489" y="526" width="1" height="1" fill="#000"/>
<rect x="503" y="526" width="1" height="1" fill="#000"/>
<rect x="517" y="526" width="1" height="2" fill="#000"/>
<rect x="532" y="526" width="1" height="1" fill="#000"/>
<rect x="547" y="526" width="1" height="1" fill="#000"/>
<rect x="561" y="526" width="1" height="2" fill="#000"/>
<rect x="576" y="526" width="1" height="1" fill="#000"/>
<rect x="590" y="526" width="1" height="1" fill="#000"/>
<rect x="605" y="526" width="1" height="2" fill="#000"/>
<rect x="620" y="526" width="1" height="1" fill="#000"/>
<rect x="634" y="526" width="1" height="1" fill="#000"/>
<rect x="649" y="526" width="1" height="2" fill="#000"/>
<rect x="665" y="526" width="1" height="1" fill="#000"/>
<rect x="678" y="526" width="1" height="1" fill="#000"/>
<rect x="692" y="526" width="1" height="2" fill="#000"/>
<rect x="707" y="526" width="1" height="1" fill="#000"/>
<rect x="721" y="526" width="1" height="1" fill="#000"/>
<rect x="736" y="526" width="1" height="2" fill="#000"/>
<rect x="751" y="526" width="1" height="1" fill="#000"/>
<rect x="765" y="526" width="1" height="1" fill="#000"/>
<rect x="780" y="526" width="1" height="2" fill="#000"/>
<rect x="795" y="526" width="1" height="1" fill="#000"/>
<rect x="809" y="526" width="1" height="1" fill="#000"/>
<rect x="824" y="526" width="1" height="2" fill="#000"/>
<rect x="838" y="526" width="1" height="1" fill="#000"/>
<rect x="851" y="526" width="1" height="1" fill="#000"/>
<rect x="867" y="526" width="1" height="2" fill="#000"/>
<rect x="881" y="526" width="1" height="1" fill="#000"/>
</svg>
<div class="t h" style="left:18px;letter-spacing:-0.22px;">London Spot Gold (GOLDS) 1197.25</div>
<div class="t h" style="left:259px;color:#cc0000;">-11.15</div>
<div class="t h" style="left:649px;letter-spacing:0.05px;">www.fullermoney.com</div>
<div class="t h" style="left:814px;letter-spacing:-0.5px;">10 May 2010</div>
<div class="t" style="left:20px;top:28px;width:49px;height:14px;color:#0000cc;background:#fff;padding:1px 0 0 2px;">Weekly</div>
<div class="t" style="left:20px;top:45px;width:60px;height:15px;color:#a52020;background:#fff;padding:0 0 0 2px;">EMA 200</div>
<div class="yl" style="top:503px;">400</div>
<div class="yl" style="top:447px;">500</div>
<div class="yl" style="top:391px;">600</div>
<div class="yl" style="top:335px;">700</div>
<div class="yl" style="top:279px;">800</div>
<div class="yl" style="top:223px;">900</div>
<div class="yl" style="top:167px;">1000</div>
<div class="yl" style="top:110px;">1100</div>
<div class="yl" style="top:54px;">1200</div>
<div class="xl" style="left:7px">Jul</div>
<div class="xl" style="left:52px">Oct</div>
<div class="xl" style="left:98px;letter-spacing:0.3px">2006</div>
<div class="xl" style="left:138px">Apr</div>
<div class="xl" style="left:182px">Jul</div>
<div class="xl" style="left:227px">Oct</div>
<div class="xl" style="left:271px;letter-spacing:0.3px">2007</div>
<div class="xl" style="left:313px">Apr</div>
<div class="xl" style="left:357px">Jul</div>
<div class="xl" style="left:401px">Oct</div>
<div class="xl" style="left:446px;letter-spacing:0.3px">2008</div>
<div class="xl" style="left:487px">Apr</div>
<div class="xl" style="left:531px">Jul</div>
<div class="xl" style="left:576px">Oct</div>
<div class="xl" style="left:621px;letter-spacing:0.3px">2009</div>
<div class="xl" style="left:662px">Apr</div>
<div class="xl" style="left:706px">Jul</div>
<div class="xl" style="left:751px">Oct</div>
<div class="xl" style="left:796px;letter-spacing:0.3px">2010</div>
<div class="xl" style="left:837px">Apr</div>
<div class="t" style="left:759px;top:547px;font-size:10px;line-height:10px;letter-spacing:-0.25px;color:#999;">&copy; 2010 Stockcube Research Ltd</div>
</body></html>
